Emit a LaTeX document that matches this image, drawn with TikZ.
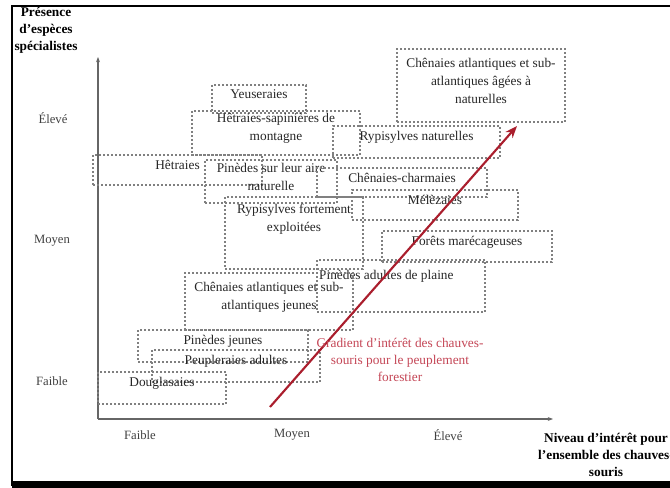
\documentclass[tikz,border=0pt]{standalone}
\usepackage{fontspec}
\setmainfont{Liberation Serif}
\usepackage{tikz}
\usepackage{xcolor}
\usetikzlibrary{arrows, arrows.meta, fit, positioning}
\definecolor{gradred}{RGB}{170,30,45}
\definecolor{gradtext}{RGB}{196,70,86}
\tikzstyle{zone} = [rectangle, draw=black!50, line width=0.9pt, dash pattern=on 1.5pt off 1.5pt, inner sep=0pt, text=black!85, align=center, font=\fontsize{10}{13.5}\selectfont]
\tikzstyle{level} = [text=black!75, font=\fontsize{9.5}{12}\selectfont]
\tikzstyle{axtitle} = [align=center, font=\bfseries\fontsize{10}{12.6}\selectfont]
\tikzstyle{axis} = [draw=black!60, line width=0.9pt, -{Stealth[length=4pt,width=3pt]}]
\tikzstyle{gradient} = [draw=gradred, line width=1.6pt, -{Stealth[length=9pt,width=7pt]}]

\begin{document}
\begin{tikzpicture}[x=0.75pt, y=-0.75pt]
\useasboundingbox (0,0) rectangle (670,488);

% frame
\draw[line width=1.1pt] (12,486) -- (12,6) -- (670,6);
\fill (12,481) rectangle (670,488);

% axes
\coordinate (origin) at (98,419);
\coordinate (ytop) at (98,57);
\coordinate (xend) at (553,419);
\draw[axis] (origin) -- (ytop);
\draw[axis] (origin) -- (xend);

\node (ytitle) [axtitle] at (46,30) {Présence\\d'espèces\\spécialistes};
\node (xtitle) [axtitle] at (606,455) {Niveau d'intérêt pour\\l'ensemble des chauves-\\souris};

\node (y-high) [level] at (53,118) {Élevé};
\node (y-mid) [level] at (52,241) {Moyen};
\node (y-low) [level] at (52,381) {Faible};
\node (x-low) [level] at (140,435) {Faible};
\node (x-mid) [level] at (292,435) {Moyen};
\node (x-high) [level] at (448,435) {Élevé};

% forest stands
\node (chen-agees) [zone, fit={(397,49) (565,122)}] {Chênaies atlantiques et sub-\\atlantiques âgées à\\naturelles};
\node (yeuse) [zone, fit={(212,85) (306,113)}] {Yeuseraies};
\node (hetr-sap) [zone, fit={(192,111) (360,155)}] {Hêtraies-sapinières de\\montagne};
\node (ripi-nat) [zone, fit={(333,126) (500,158)}] {Rypisylves naturelles};
\node (hetraies) [zone, fit={(93,155) (262,185)}] {Hêtraies};
\node (pin-aire) [zone, fit={(205,160) (337,203)}] {Pinèdes sur leur aire\\naturelle};
\node (chen-charm) [zone, fit={(317,168) (487,197)}] {Chênaies-charmaies};
\node (meleze) [zone, fit={(352,190) (518,220)}] {Mélèzaies};
\node (ripi-expl) [zone, fit={(225,197) (363,269)}, label={[zone, draw=none, yshift=10pt]center:Rypisylves fortement\\exploitées}] {};
\node (for-mar) [zone, fit={(382,231) (552,262)}] {Forêts marécageuses};
\node (pin-plaine) [zone, fit={(317,260) (485,312)}, label={[zone, draw=none, xshift=-11pt, yshift=7pt]center:Pinèdes adultes de plaine}] {};
\node (chen-jeunes) [zone, fit={(185,273) (353,330)}] {Chênaies atlantiques et sub-\\atlantiques jeunes};
\node (pin-jeunes) [zone, fit={(138,330) (308,362)}] {Pinèdes jeunes};
\node (peupl) [zone, fit={(152,350) (320,382)}] {Peupleraies adultes};
\node (douglas) [zone, fit={(98,372) (226,404)}] {Douglasaies};

% gradient
\coordinate (grad-start) at (270,407);
\coordinate (grad-end) at (517,126);
\draw[gradient] (grad-start) -- (grad-end);
\node (grad-label) [align=center, text=gradtext, font=\fontsize{10}{12.75}\selectfont] at (400,360) {Gradient d'intérêt des chauves-\\souris pour le peuplement\\forestier};

\end{tikzpicture}
\end{document}
